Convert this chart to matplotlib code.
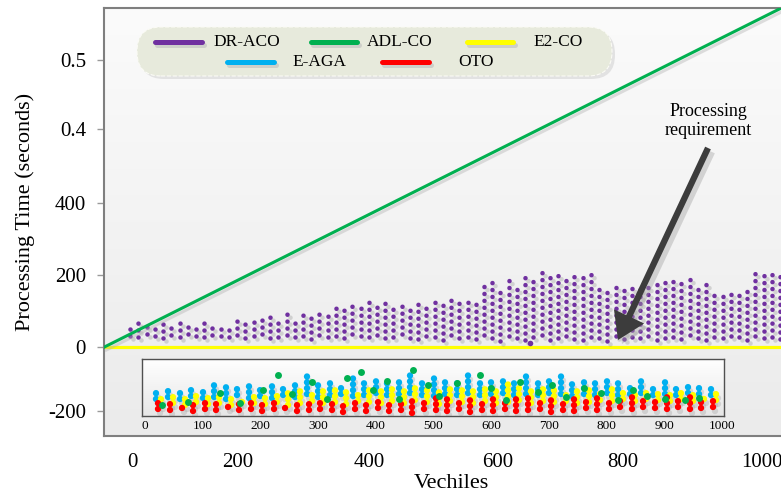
import numpy as np
import matplotlib
matplotlib.use("Agg")
import matplotlib.pyplot as plt
from matplotlib.colors import LinearSegmentedColormap
from matplotlib.patches import FancyBboxPatch, FancyArrowPatch
from matplotlib.lines import Line2D
from matplotlib.transforms import offset_copy

plt.rcParams['font.family'] = ['Liberation Serif', 'DejaVu Serif']

# ---- main panel: DR-ACO columns (vehicles, low / high processing time) ----
dr_x = [15, 28, 41, 54, 67, 80, 93, 106, 119, 132,
        145, 158, 171, 184, 197, 210, 223, 236, 249, 262,
        275, 288, 301, 314, 327, 340, 353, 366, 379, 392,
        405, 418, 431, 444, 457, 470, 483, 496, 509, 522,
        535, 548, 561, 574, 587, 600, 613, 626, 639, 652,
        665, 678, 691, 704, 717, 730, 743, 756, 769, 782,
        795, 808, 821, 834, 847, 860, 873, 886, 899, 912,
        925, 938, 951, 964, 977, 990, 1003, 1016, 1029, 1042]
dr_high = [62, 70, 58, 66, 72, 60, 68, 55, 64, 70,
           59, 67, 62, 74, 65, 82, 76, 90, 84, 97,
           80, 94, 88, 100, 92, 112, 104, 120, 108, 126,
           115, 122, 110, 128, 118, 132, 124, 136, 120, 134,
           126, 138, 130, 176, 182, 170, 185, 178, 195, 188,
           212, 205, 215, 198, 210, 202, 214, 176, 168, 180,
           172, 165, 178, 170, 186, 180, 190, 182, 188, 178,
           185, 158, 150, 160, 152, 155, 212, 205, 214, 208]
dr_low = [32, 28, 35, 30, 26, 33, 29, 36, 31, 27,
          34, 30, 28, 33, 26, 31, 35, 24, 29, 33,
          27, 30, 22, 34, 28, 31, 25, 36, 30, 27,
          33, 24, 29, 35, 26, 22, 31, 27, 20, 33,
          25, 29, 22, 34, 26, 18, 30, 24, 21, 28,
          33, 19, 26, 30, 23, 20, 29, 25, 18, 31,
          22, 27, 24, 30, 19, 26, 28, 22, 33, 25,
          20, 29, 24, 31, 27, 21, 30, 25, 28, 23]
dr_stray_x = [646]
dr_stray_y = [11]

# ADL-CO and E2-CO lines
adl_x = [-26, 1044]
adl_y = [0, 942]
e2_x = [-26, 1074]
e2_y = [0, 0]

ytick_pos = [-178, 0, 200, 400, 606, 797]
ytick_lab = ['-200', '0', '200', '400', '0.4', '0.5']
xtick_pos = [19, 185, 393, 595, 794, 1013]
xtick_lab = ['0', '200', '400', '600', '800', '1000']

# ---- inset panel: per-column bands ----
inset_x = [20, 40, 60, 80, 100, 120, 140, 160, 180, 200,
           220, 240, 260, 280, 300, 320, 340, 360, 380, 400,
           420, 440, 460, 480, 500, 520, 540, 560, 580, 600,
           620, 640, 660, 680, 700, 720, 740, 760, 780, 800,
           820, 840, 860, 880, 900, 920, 940, 960, 980]
red_low = [12, 10, 14, 9, 12, 11, 15, 10, 13, 9,
           12, 14, 8, 11, 13, 10, 7, 12, 9, 14,
           8, 11, 6, 13, 10, 8, 12, 7, 11, 9,
           13, 8, 10, 12, 7, 11, 9, 14, 10, 12,
           15, 13, 16, 14, 12, 15, 13, 14, 16]
red_high = [22, 25, 21, 24, 26, 23, 25, 22, 27, 24,
            26, 23, 28, 25, 27, 30, 26, 29, 27, 31,
            25, 28, 30, 27, 32, 29, 26, 31, 28, 33,
            27, 30, 32, 29, 31, 28, 33, 30, 34, 31,
            32, 35, 33, 31, 34, 32, 35, 33, 34]
yellow_low = [20, 22, 19, 24, 21, 23, 20, 25, 22, 21,
              24, 20, 23, 26, 22, 25, 21, 27, 24, 22,
              26, 23, 28, 25, 21, 27, 24, 22, 26, 23,
              25, 28, 22, 26, 24, 27, 23, 25, 28, 26,
              29, 27, 30, 28, 26, 29, 27, 30, 28]
yellow_high = [32, 36, 30, 38, 34, 40, 36, 33, 41, 38,
               44, 40, 46, 42, 48, 45, 50, 44, 52, 47,
               55, 50, 58, 52, 49, 56, 53, 47, 54, 50,
               57, 52, 48, 55, 51, 46, 53, 49, 44, 50,
               46, 42, 45, 41, 44, 40, 43, 39, 42]
blue_low = [30, 33, 29, 35, 31, 34, 30, 36, 32, 35,
            31, 37, 33, 38, 34, 36, 39, 35, 37, 40,
            36, 38, 41, 37, 35, 39, 36, 40, 37, 38,
            41, 36, 39, 37, 40, 38, 35, 39, 37, 40,
            36, 38, 41, 37, 39, 36, 40, 38, 37]
blue_high = [46, 52, 48, 55, 50, 57, 53, 49, 56, 52,
             58, 54, 62, 72, 60, 66, 58, 75, 64, 70,
             62, 68, 73, 65, 71, 60, 67, 74, 63, 69,
             61, 66, 72, 64, 68, 70, 62, 67, 60, 65,
             63, 58, 62, 56, 60, 55, 59, 54, 57]
green_x = [30, 75, 130, 165, 205, 230, 255, 290, 315, 350, 375, 395, 420, 440,
           465, 490, 510, 540, 580, 600, 625, 650, 680, 705, 730, 760, 790, 820,
           845, 870, 900, 935, 960]
green_y = [20, 25, 40, 22, 45, 72, 38, 60, 30, 66, 78, 45, 62, 30,
           80, 55, 35, 58, 72, 50, 28, 60, 42, 55, 33, 50, 40, 28,
           45, 35, 30, 28, 32]
inset_ticks = [0, 100, 200, 300, 400, 500, 600, 700, 800, 900, 1000]

PURPLE = '#7030a0'
GREEN = '#00b050'
YELLOW = '#ffff00'
BLUE = '#00b0f0'
RED = '#ff0000'

W, H = 781, 497
fig = plt.figure(figsize=(W / 100, H / 100), dpi=100)
fig.patch.set_facecolor('white')


def px(x, y):
    # pixel position (from top-left) -> inches for dpi_scale_trans
    return x / 100, (H - y) / 100


def dotted_columns(axis, x, lo, hi, color, lw, gap, shift=(0, 0), **kw):
    tr = offset_copy(axis.transData, fig=fig, x=shift[0], y=shift[1], units='dots')
    lc = axis.vlines(x, lo, hi, colors=color, linewidth=lw,
                     linestyles=[(0, (0.01, gap))], transform=tr, **kw)
    lc.set_capstyle('round')
    return lc


# ---- main axes ----
ax = fig.add_axes([104 / W, 1 - 436 / H, (800 - 104) / W, (436 - 8) / H])
bg = LinearSegmentedColormap.from_list('bg', ['#ebebeb', '#fbfbfb'])
ax.imshow(np.linspace(0, 1, 256).reshape(-1, 1), extent=[0, 1, 0, 1],
          transform=ax.transAxes, cmap=bg, aspect='auto', origin='lower', zorder=0)

ax.plot(e2_x, e2_y, color=YELLOW, lw=2.3, zorder=2)

# shadow then the purple columns
dotted_columns(ax, dr_x, dr_low, dr_high, '#8a8a8a', 3.3, 1.5, shift=(3, -3), alpha=0.3, zorder=3)
dotted_columns(ax, dr_x, dr_low, dr_high, PURPLE, 3.3, 1.5, zorder=4)
ax.plot(dr_stray_x, dr_stray_y, 'o', color=PURPLE, ms=4, mec='none', zorder=4)

sh = offset_copy(ax.transData, fig=fig, x=2, y=-3, units='dots')
ax.plot(adl_x, adl_y, color='#b0b0b0', lw=2.2, alpha=0.4, transform=sh, zorder=4)
ax.plot(adl_x, adl_y, color=GREEN, lw=2.2, zorder=5)

ax.set_xlim(-26.4, 1073.4)
ax.set_ylim(-247, 942)
ax.set_yticks(ytick_pos)
ax.set_yticklabels(ytick_lab)
ax.set_xticks(xtick_pos)
ax.set_xticklabels(xtick_lab)
ax.tick_params(axis='y', direction='out', length=5, width=1, color='#9a9a9a',
               pad=8, labelsize=15)
ax.tick_params(axis='x', length=0, pad=12, labelsize=15)
for side in ['top', 'left', 'bottom']:
    ax.spines[side].set_color('#7f7f7f')
    ax.spines[side].set_linewidth(1.5)
ax.spines['right'].set_visible(False)

# ---- inset axes ----
iax = fig.add_axes([142 / W, 1 - 416 / H, 582 / W, 57 / H])
ibg = LinearSegmentedColormap.from_list('ibg', ['#e6e6e6', '#ffffff'])
iax.imshow(np.linspace(0, 1, 256).reshape(-1, 1), extent=[0, 1, 0, 1],
           transform=iax.transAxes, cmap=ibg, aspect='auto', origin='lower', zorder=0)
for lo, hi, col, dx in [(blue_low, blue_high, BLUE, 0),
                        (yellow_low, yellow_high, YELLOW, 5),
                        (red_low, red_high, RED, 2)]:
    dotted_columns(iax, inset_x, lo, hi, '#9a9a9a', 4.6, 0.9, shift=(dx + 2, -4), alpha=0.3, zorder=2)
    dotted_columns(iax, inset_x, lo, hi, col, 4.6, 0.9, shift=(dx, 0), zorder=3)
iax.plot(green_x, green_y, 'o', color=GREEN, ms=5, mec='none', zorder=4)
iax.set_xlim(-5, 1003)
iax.set_ylim(0, 100)
iax.set_xticks(inset_ticks)
iax.set_xticklabels([str(t) for t in inset_ticks])
iax.set_yticks([])
iax.tick_params(axis='x', length=0, pad=3, labelsize=9.5)
for s in iax.spines.values():
    s.set_color('#505050')
    s.set_linewidth(1.0)

# ---- legend panel ----
lx, ly = px(137, 76)
fig.add_artist(FancyBboxPatch((lx + 0.03, ly - 0.03), 4.75, 0.49,
                              boxstyle='round,pad=0,rounding_size=0.24',
                              transform=fig.dpi_scale_trans, fc='#c8c8c8', ec='none',
                              alpha=0.45, zorder=5))
fig.add_artist(FancyBboxPatch((lx, ly), 4.75, 0.49,
                              boxstyle='round,pad=0,rounding_size=0.24',
                              transform=fig.dpi_scale_trans, fc='#e7eadc', ec='#fbfbf5',
                              lw=0.8, ls='--', zorder=6))
entries = [('DR-ACO', PURPLE, 155, 202, 213, 42),
           ('ADL-CO', GREEN, 311, 357, 367, 42),
           ('E2-CO', YELLOW, 467, 513, 533, 42),
           ('E-AGA', BLUE, 227, 274, 292, 62),
           ('OTO', RED, 382, 429, 458, 62)]
for name, col, x0, x1, tx, y in entries:
    a, b = px(x0, y)
    c, _ = px(x1, y)
    fig.add_artist(Line2D([a + 0.02, c + 0.02], [b - 0.025, b - 0.025], lw=3.6,
                          color='#bdbdbd', alpha=0.6, solid_capstyle='round',
                          transform=fig.dpi_scale_trans, zorder=7))
    fig.add_artist(Line2D([a, c], [b, b], lw=3.6, color=col, solid_capstyle='round',
                          transform=fig.dpi_scale_trans, zorder=8))
    t, u = px(tx, y)
    fig.text(t, u, name, transform=fig.dpi_scale_trans, fontsize=12.5,
             ha='left', va='center', zorder=8)

# ---- annotation arrow ----
a0, a1 = px(708, 148), px(618, 340)
style = 'simple,head_length=1.25,head_width=1.6,tail_width=0.3'
fig.add_artist(FancyArrowPatch((a0[0] + 0.04, a0[1] - 0.04), (a1[0] + 0.04, a1[1] - 0.04),
                               arrowstyle=style, mutation_scale=15, shrinkA=0, shrinkB=0,
                               transform=fig.dpi_scale_trans, fc='#a0a0a0', ec='none',
                               alpha=0.4, zorder=5))
fig.add_artist(FancyArrowPatch(a0, a1, arrowstyle=style, mutation_scale=15,
                               shrinkA=0, shrinkB=0, transform=fig.dpi_scale_trans,
                               fc='#3c3c3c', ec='none', zorder=6))
t, u = px(708, 121)
fig.text(t, u, 'Processing\nrequirement', transform=fig.dpi_scale_trans,
         fontsize=13, ha='center', va='center', linespacing=1.2)

# ---- axis titles ----
t, u = px(25, 212)
fig.text(t, u, 'Processing Time (seconds)', transform=fig.dpi_scale_trans,
         fontsize=16, rotation=90, ha='center', va='center')
t, u = px(451, 483)
fig.text(t, u, 'Vechiles', transform=fig.dpi_scale_trans,
         fontsize=16, ha='center', va='center')

fig.savefig('out.png', dpi=100)
